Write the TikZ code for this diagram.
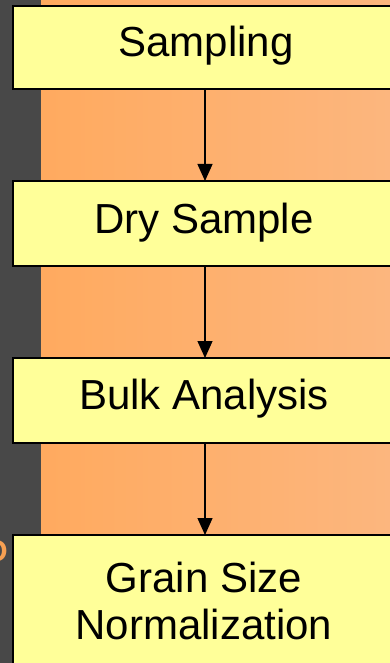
\documentclass[tikz,border=0pt]{standalone}
\usepackage{fontspec}
\setmainfont{Liberation Sans}
\usetikzlibrary{arrows.meta}
\definecolor{slate}{HTML}{484848}
\definecolor{peachL}{HTML}{FFAA5F}
\definecolor{peachR}{HTML}{FCB67E}
\definecolor{paleyellow}{HTML}{FFFF99}
\definecolor{accent}{HTML}{F7A052}
\tikzset{
  x=1pt, y=-1pt,
  stepbox/.style={draw=black, line width=2pt, fill=paleyellow},
  label/.style={font=\fontsize{42}{48}\selectfont, align=center},
  flow/.style={draw=black, line width=1.3pt, -{Triangle[length=17pt,width=15pt]}}
}
\begin{document}
\begin{tikzpicture}
  \useasboundingbox (0,0) rectangle (390,663);
  % backdrop: dark strip on the left, warm gradient panel
  \fill[slate] (0,0) rectangle (390,663);
  \fill[left color=peachL, right color=peachR] (41,0) rectangle (390,663);
  % heading glyph running in from the left edge
  \node[text=accent, font=\fontsize{30}{32}\bfseries\selectfont, anchor=east, inner sep=0] (stray) at (8,551) {O};
  % process boxes
  \draw[stepbox] (13,6) rectangle (400,89);
  \draw[stepbox] (13,181) rectangle (400,266);
  \draw[stepbox] (13,358) rectangle (400,443);
  \draw[stepbox] (13,535) rectangle (400,680);
  \coordinate (b1top) at (205,6);  \coordinate (b1bot) at (205,89);
  \coordinate (b2top) at (205,181); \coordinate (b2bot) at (205,266);
  \coordinate (b3top) at (205,358); \coordinate (b3bot) at (205,443);
  \coordinate (b4top) at (205,535);
  \node[label] (sampling) at (206,46) {Sampling};
  \node[label] (dry) at (204,223) {Dry Sample};
  \node[label] (bulk) at (204,399) {Bulk Analysis};
  \node[label, font=\fontsize{42}{47}\selectfont] (grain) at (204,601) {Grain Size\\Normalization};
  % connectors
  \draw[flow] (b1bot) -- (b2top);
  \draw[flow] (b2bot) -- (b3top);
  \draw[flow] (b3bot) -- (b4top);
\end{tikzpicture}
\end{document}
